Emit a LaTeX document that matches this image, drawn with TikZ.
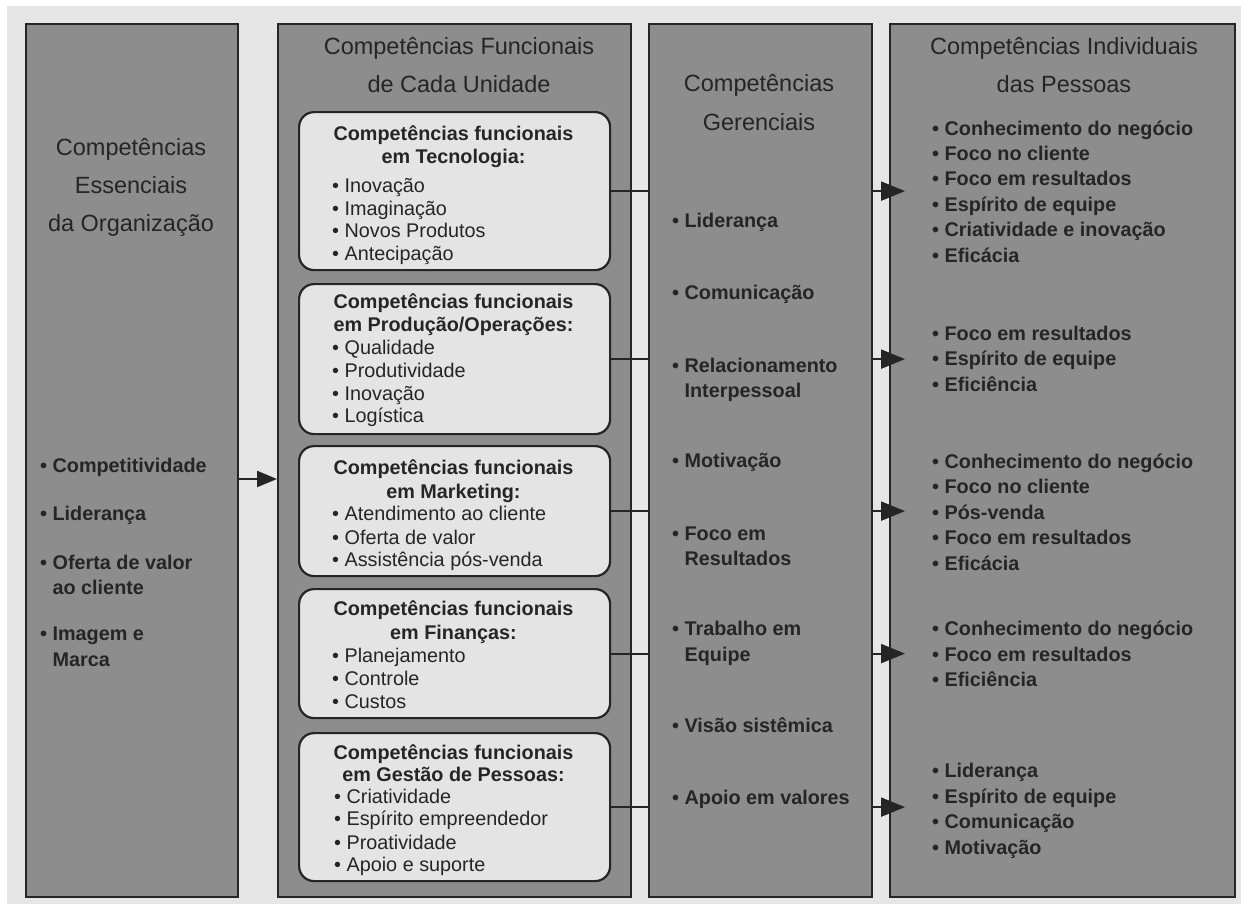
\documentclass[tikz,border=0pt]{standalone}
\usepackage{fontspec}
\setmainfont{Liberation Sans}
\usetikzlibrary{arrows.meta,calc}
\definecolor{bgc}{HTML}{E6E6E6}
\definecolor{colfill}{HTML}{8D8D8D}
\definecolor{boxfill}{HTML}{E4E4E4}
\definecolor{ink}{HTML}{252525}
\begin{document}
\begin{tikzpicture}[x=1pt,y=-1pt,
  col/.style={draw=ink, line width=2.2pt, fill=colfill, inner sep=0pt, anchor=north west},
  fbox/.style={draw=ink, line width=2.2pt, fill=boxfill, rounded corners=15pt, inner sep=0pt, anchor=north west},
  ttl/.style={text=ink, inner sep=0pt, anchor=base, font=\fontsize{23.5}{28}\selectfont},
  btl/.style={text=ink, inner sep=0pt, anchor=base, font=\fontsize{19.8}{24}\selectfont\bfseries},
  itm/.style={text=ink, inner sep=0pt, anchor=base west, font=\fontsize{19.8}{24}\selectfont\bfseries},
  bitm/.style={text=ink, inner sep=0pt, anchor=base west, font=\fontsize{19.8}{24}\selectfont},
  conn/.style={draw=ink, line width=2.2pt},
  arr/.style={draw=ink, line width=2.2pt, -{Triangle[length=24pt,width=19pt]}},
  arrs/.style={draw=ink, line width=2.2pt, -{Triangle[length=20pt,width=16pt]}}
]
\useasboundingbox (0,0) rectangle (1248,908);
\fill[white] (0,0) rectangle (1248,908);
\fill[bgc] (7,6) rectangle (1241,904);

% columns
\node[col, minimum width=212pt, minimum height=873pt] (c1) at (25,23) {};
\node[col, minimum width=353pt, minimum height=873pt] (c2) at (277,23) {};
\node[col, minimum width=223pt, minimum height=873pt] (c3) at (648,23) {};
\node[col, minimum width=345pt, minimum height=873pt] (c4) at (889,23) {};

% column 1
\node[ttl] (c1t1) at (131,155) {Competências};
\node[ttl] (c1t2) at (131,193) {Essenciais};
\node[ttl] (c1t3) at (131,231) {da Organização};
\node[itm] (c1a) at (40,472) {• Competitividade};
\node[itm] (c1b) at (40,520) {• Liderança};
\node[itm] (c1c) at (40,569) {• Oferta de valor};
\node[itm] (c1d) at (40,594) {\phantom{• }ao cliente};
\node[itm] (c1e) at (40,640) {• Imagem e};
\node[itm] (c1f) at (40,666) {\phantom{• }Marca};

% column 2
\node[ttl] (c2t1) at (459,54) {Competências Funcionais};
\node[ttl] (c2t2) at (459,92) {de Cada Unidade};

\node[fbox, minimum width=311pt, minimum height=158pt] (b1) at (298,111) {};
\node[fbox, minimum width=311pt, minimum height=150pt] (b2) at (298,283) {};
\node[fbox, minimum width=311pt, minimum height=130pt] (b3) at (298,445) {};
\node[fbox, minimum width=311pt, minimum height=129pt] (b4) at (298,588) {};
\node[fbox, minimum width=311pt, minimum height=148pt] (b5) at (298,732) {};

% box 1
\node[btl] (b1t1) at (453.5,140) {Competências funcionais};
\node[btl] (b1t2) at (453.5,163) {em Tecnologia:};
\foreach \yy/\tx [count=\k] in {192/Inovação,215/Imaginação,237/Novos Produtos,260/Antecipação}
  \node[bitm] (b1i\k) at (332,\yy) {• \tx};
% box 2
\node[btl] (b2t1) at (453.5,308) {Competências funcionais};
\node[btl] (b2t2) at (453.5,331) {em Produção/Operações:};
\foreach \yy/\tx [count=\k] in {354/Qualidade,377/Produtividade,400/Inovação,422/Logística}
  \node[bitm] (b2i\k) at (332,\yy) {• \tx};
% box 3
\node[btl] (b3t1) at (453.5,474) {Competências funcionais};
\node[btl] (b3t2) at (453.5,498) {em Marketing:};
\foreach \yy/\tx [count=\k] in {520/Atendimento ao cliente,544/Oferta de valor,566/Assistência pós-venda}
  \node[bitm] (b3i\k) at (332,\yy) {• \tx};
% box 4
\node[btl] (b4t1) at (453.5,615) {Competências funcionais};
\node[btl] (b4t2) at (453.5,639) {em Finanças:};
\foreach \yy/\tx [count=\k] in {662/Planejamento,685/Controle,708/Custos}
  \node[bitm] (b4i\k) at (332,\yy) {• \tx};
% box 5
\node[btl] (b5t1) at (453.5,759) {Competências funcionais};
\node[btl] (b5t2) at (453.5,781) {em Gestão de Pessoas:};
\foreach \yy/\tx [count=\k] in {803/Criatividade,825/Espírito empreendedor,849/Proatividade,871/Apoio e suporte}
  \node[bitm] (b5i\k) at (334,\yy) {• \tx};

% column 3
\node[ttl] (c3t1) at (759,91) {Competências};
\node[ttl] (c3t2) at (759,130) {Gerenciais};
\node[itm] (c3a) at (672,227) {• Liderança};
\node[itm] (c3b) at (672,299) {• Comunicação};
\node[itm] (c3c) at (672,372) {• Relacionamento};
\node[itm] (c3d) at (672,397) {\phantom{• }Interpessoal};
\node[itm] (c3e) at (672,467) {• Motivação};
\node[itm] (c3f) at (672,540) {• Foco em};
\node[itm] (c3g) at (672,565) {\phantom{• }Resultados};
\node[itm] (c3h) at (672,635) {• Trabalho em};
\node[itm] (c3i) at (672,661) {\phantom{• }Equipe};
\node[itm] (c3j) at (672,732) {• Visão sistêmica};
\node[itm] (c3k) at (672,804) {• Apoio em valores};

% column 4
\node[ttl] (c4t1) at (1064,54) {Competências Individuais};
\node[ttl] (c4t2) at (1064,92) {das Pessoas};
\foreach \yy/\tx [count=\k] in {135/Conhecimento do negócio,160/Foco no cliente,185/Foco em resultados,211/Espírito de equipe,236/Criatividade e inovação,262/Eficácia}
  \node[itm] (g1i\k) at (932,\yy) {• \tx};
\foreach \yy/\tx [count=\k] in {340/Foco em resultados,365/Espírito de equipe,391/Eficiência}
  \node[itm] (g2i\k) at (932,\yy) {• \tx};
\foreach \yy/\tx [count=\k] in {468/Conhecimento do negócio,493/Foco no cliente,519/Pós-venda,544/Foco em resultados,570/Eficácia}
  \node[itm] (g3i\k) at (932,\yy) {• \tx};
\foreach \yy/\tx [count=\k] in {635/Conhecimento do negócio,661/Foco em resultados,686/Eficiência}
  \node[itm] (g4i\k) at (932,\yy) {• \tx};
\foreach \yy/\tx [count=\k] in {777/Liderança,803/Espírito de equipe,828/Comunicação,854/Motivação}
  \node[itm] (g5i\k) at (932,\yy) {• \tx};

% connectors
\coordinate (in1) at (c1.east |- c1a.base);
\draw[arrs] ([yshift=-7pt]in1) -- ([yshift=-7pt]in1 -| c2.west);
\foreach \b in {b1,b2,b3,b4,b5}{
  \draw[conn] (\b.east) -- (\b.east -| c3.west);
  \draw[arr] (\b.east -| c3.east) -- ($(\b.east -| c4.west)+(16,0)$);
}
\end{tikzpicture}
\end{document}
